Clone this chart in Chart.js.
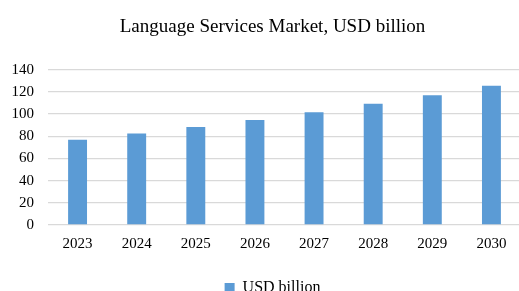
<!DOCTYPE html>
<html>
<head>
<meta charset="utf-8">
<script src="https://cdn.jsdelivr.net/npm/chart.js@4/dist/chart.umd.min.js"></script>
<style>
    html, body { margin: 0; padding: 0; background: #fff; overflow: hidden; }
    canvas { display: block; }
</style>
</head>
<body>
<canvas id="myChart" width="545" height="306"></canvas>
<script>
// données du graphique
const years = ['2023', '2024', '2025', '2026', '2027', '2028', '2029', '2030'];
const usdBillion = [76.8, 82.5, 88.5, 94.8, 101.8, 109.3, 117.1, 125.6];
const seriesLabel = 'USD billion';
const chartTitle = 'Language Services Market, USD billion';

const serif = "'Liberation Serif', 'Times New Roman', serif";

window.onload = () => {
    createChart();
};

function createChart() {
    const ctx = document.getElementById('myChart').getContext('2d');

    new Chart(ctx, {
        type: 'bar',
        data: {
            labels: years,
            datasets: [{
                label: seriesLabel,
                data: usdBillion,
                backgroundColor: '#5B9BD5',
                borderWidth: 0,
                categoryPercentage: 0.32,
                barPercentage: 1.0,
                yAxisID: 'y',
            }],
        },
        options: {
            responsive: false,
            animation: false,
            layout: {
                padding: 0,
            },
            plugins: {
                title: {
                    display: true,
                    text: chartTitle,
                    color: '#000',
                    font: { family: serif, size: 19, weight: 'normal' },
                    padding: { top: 16, bottom: 31 },
                },
                legend: {
                    position: 'bottom',
                    labels: {
                        color: '#000',
                        font: { family: serif, size: 16 },
                        boxWidth: 10,
                        boxHeight: 10,
                        padding: 17,
                    },
                },
                tooltip: { enabled: false },
            },
            scales: {
                x: {
                    grid: { display: false, drawTicks: false },
                    border: { display: false },
                    ticks: {
                        color: '#000',
                        font: { family: serif, size: 15 },
                        padding: 10,
                        maxRotation: 0,
                    },
                },
                y: {
                    min: 0,
                    max: 140,
                    grid: { color: '#d9d9d9', lineWidth: 1.3, drawTicks: false },
                    border: { display: false },
                    ticks: {
                        stepSize: 20,
                        color: '#000',
                        font: { family: serif, size: 15 },
                        padding: 14,
                    },
                    afterFit: (scale) => { scale.width = 48; },
                },
                // axe vide à droite, juste pour garder la marge
                marge: {
                    position: 'right',
                    grid: { display: false, drawTicks: false },
                    border: { display: false },
                    ticks: { display: false },
                    afterFit: (scale) => { scale.width = 24; },
                },
            },
        },
    });
}
</script>
</body>
</html>
